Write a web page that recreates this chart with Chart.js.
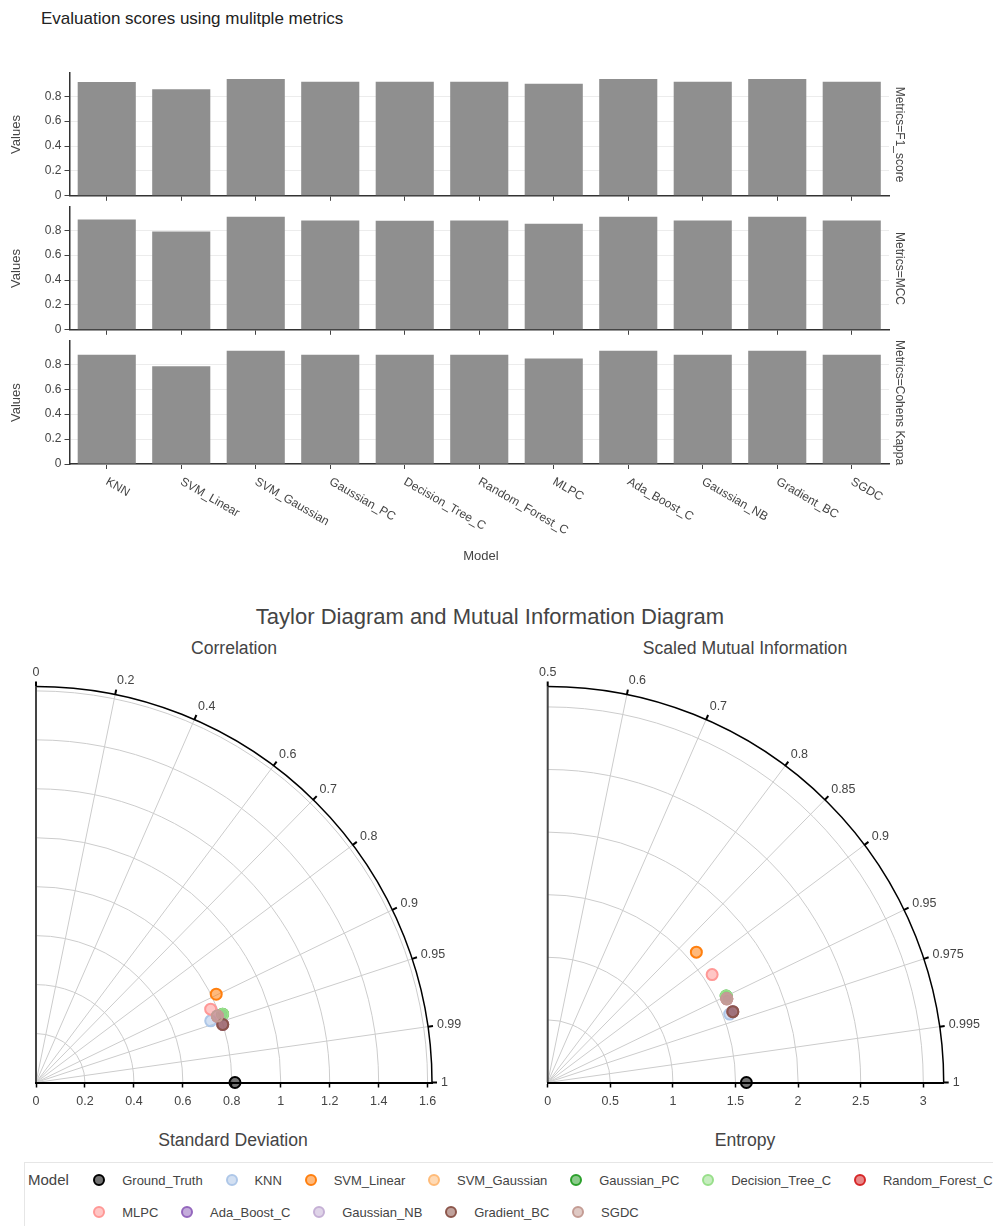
<!DOCTYPE html>
<html lang="en">
<head>
<meta charset="utf-8">
<script src="https://cdn.jsdelivr.net/npm/chart.js@4.4.0/dist/chart.umd.min.js"></script>
<style>
  body { margin: 0; width: 993px; height: 1226px; overflow: hidden; background: #fff;
         font-family: "Liberation Sans", Arial, sans-serif; color: #444; position: relative; }
  canvas { position: absolute; }
  .txt { position: absolute; text-align: center; white-space: nowrap; }
  #legend { position: absolute; left: 24px; top: 1162px; width: 1000px; height: 90px;
            border: 1px solid #e6e6e6; box-sizing: border-box; }
  .ltitle { position: absolute; left: 3px; top: 8px; font-size: 15px; line-height: 18px; }
  .lrow { position: absolute; left: 68.4px; display: flex; align-items: center; white-space: nowrap; height: 20px; }
  .item { display: flex; align-items: center; margin-right: 23px; font-size: 13px; }
  .mk { width: 12px; height: 12px; border-radius: 50%; border: 2px solid; box-sizing: border-box; margin-right: 16.8px; }
</style>
</head>
<body>

<div class="txt" style="left:41px; top:9px; font-size:17px; line-height:20px; color:#222; text-align:left">Evaluation scores using mulitple metrics</div>

<canvas id="f1" width="993" height="143" style="left:0; top:63px"></canvas>
<canvas id="mcc" width="993" height="143" style="left:0; top:197px"></canvas>
<canvas id="kappa" width="993" height="243" style="left:0; top:331px"></canvas>
<div class="txt" style="left:381px; width:200px; top:548px; font-size:13px; line-height:16px">Model</div>

<div class="txt" style="left:0; width:980px; top:604px; font-size:22px; line-height:26px">Taylor Diagram and Mutual Information Diagram</div>
<div class="txt" style="left:84px; width:300px; top:637px; font-size:17.6px; line-height:22px">Correlation</div>
<div class="txt" style="left:545px; width:400px; top:637px; font-size:17.6px; line-height:22px">Scaled Mutual Information</div>

<canvas id="taylor" width="490" height="452" style="left:0; top:660px"></canvas>
<canvas id="mutual" width="493" height="452" style="left:500px; top:660px"></canvas>

<div class="txt" style="left:83px; width:300px; top:1129px; font-size:17.6px; line-height:22px">Standard Deviation</div>
<div class="txt" style="left:595px; width:300px; top:1129px; font-size:17.6px; line-height:22px">Entropy</div>

<div id="legend">
  <span class="ltitle">Model</span>
  <div class="lrow" id="row1" style="top:7px"></div>
  <div class="lrow" id="row2" style="top:39px"></div>
</div>

<script>
// models (bar charts use all but Ground_Truth)
const models = ['Ground_Truth', 'KNN', 'SVM_Linear', 'SVM_Gaussian', 'Gaussian_PC', 'Decision_Tree_C',
                'Random_Forest_C', 'MLPC', 'Ada_Boost_C', 'Gaussian_NB', 'Gradient_BC', 'SGDC'];
const modelColors = ['#000000', '#aec7e8', '#ff7f0e', '#ffbb78', '#2ca02c', '#98df8a',
                     '#d62728', '#ff9896', '#9467bd', '#c5b0d5', '#8c564b', '#c49c94'];
const barModels = models.slice(1);

// bar chart scores
const f1Scores    = [0.914, 0.857, 0.938, 0.916, 0.916, 0.916, 0.900, 0.938, 0.916, 0.938, 0.916];
const mccScores   = [0.887, 0.789, 0.909, 0.879, 0.876, 0.879, 0.852, 0.909, 0.879, 0.909, 0.879];
const kappaScores = [0.876, 0.784, 0.909, 0.876, 0.876, 0.876, 0.846, 0.909, 0.876, 0.909, 0.876];

// taylor diagram
const stdDev      = [0.813, 0.757, 0.820, 0.799, 0.812, 0.812, 0.789, 0.774, 0.799, 0.789, 0.799, 0.789];
const correlation = [1.000, 0.943, 0.898, 0.955, 0.939, 0.939, 0.939, 0.922, 0.955, 0.939, 0.955, 0.939];
const corrTicks   = [0, 0.2, 0.4, 0.6, 0.7, 0.8, 0.9, 0.95, 0.99, 1];

// mutual information diagram
const entropy     = [1.587, 1.553, 1.579, 1.583, 1.584, 1.584, 1.579, 1.571, 1.583, 1.579, 1.583, 1.579];
const scaledMI    = [1.000, 0.968, 0.876, 0.967, 0.950, 0.950, 0.953, 0.918, 0.967, 0.953, 0.967, 0.953];
const smiTicks    = [0.5, 0.6, 0.7, 0.8, 0.85, 0.9, 0.95, 0.975, 0.995, 1];

const FONT = '"Liberation Sans", Arial, sans-serif';
Chart.defaults.font.family = FONT;
Chart.defaults.color = '#444';

function rgba(hex, a) {
  const n = parseInt(hex.slice(1), 16);
  return `rgba(${n >> 16},${(n >> 8) & 255},${n & 255},${a})`;
}

// ---------- facet bar charts ----------
function facetChart(id, values, metric, withLabels) {
  const sideLabel = {
    id: 'sideLabel',
    afterDraw(chart) {
      const {ctx, chartArea} = chart;
      ctx.save();
      ctx.font = '12px ' + FONT;
      ctx.fillStyle = '#444';
      ctx.textAlign = 'center';
      ctx.textBaseline = 'middle';
      ctx.translate(chartArea.right + 10, (chartArea.top + chartArea.bottom) / 2);
      ctx.rotate(Math.PI / 2);
      ctx.fillText('Metrics=' + metric, 0, 0);
      ctx.restore();
      if (!withLabels) return;
      const x = chart.scales.x;
      ctx.save();
      ctx.font = '12px ' + FONT;
      ctx.fillStyle = '#444';
      ctx.textAlign = 'left';
      ctx.textBaseline = 'middle';
      barModels.forEach((name, i) => {
        ctx.save();
        ctx.translate(x.getPixelForValue(i), chartArea.bottom + 17);
        ctx.rotate(Math.PI / 6);
        ctx.fillText(name, 0, 0);
        ctx.restore();
      });
      ctx.restore();
    }
  };

  return new Chart(document.getElementById(id), {
    type: 'bar',
    data: {
      labels: barModels,
      datasets: [{
        data: values,
        backgroundColor: '#8f8f8f',
        barPercentage: 0.78,
        categoryPercentage: 1
      }]
    },
    options: {
      responsive: false,
      animation: false,
      layout: {padding: {top: 10, right: 104, left: 0, bottom: 0}},
      plugins: {legend: {display: false}, tooltip: {enabled: false}},
      scales: {
        x: {
          grid: {display: true, drawOnChartArea: false, offset: false, tickLength: 5, tickColor: '#444'},
          border: {color: '#333', width: 1.5},
          ticks: {display: false},
          afterFit: s => { s.height = withLabels ? 110 : 10; }
        },
        y: {
          min: 0,
          max: 0.985,
          ticks: {stepSize: 0.2, includeBounds: false, padding: 3, font: {size: 12}, color: '#444'},
          grid: {color: '#ececec', tickColor: '#444', tickLength: 5},
          border: {color: '#333', width: 1.5},
          title: {display: true, text: 'Values', font: {size: 13}, color: '#444', padding: {top: 9, bottom: 0}},
          afterFit: s => { s.width = 69.5; }
        }
      }
    },
    plugins: [sideLabel]
  });
}

facetChart('f1', f1Scores, 'F1_score', false);
facetChart('mcc', mccScores, 'MCC', false);
facetChart('kappa', kappaScores, 'Cohens Kappa', true);

// ---------- polar quarter diagrams ----------
function quarterGrid(angleTicks, toAngle) {
  return {
    id: 'quarterGrid',
    beforeDraw(chart) {
      const {ctx, scales: {x, y}} = chart;
      const cx = x.getPixelForValue(0), cy = y.getPixelForValue(0);
      const R = x.getPixelForValue(x.max) - cx;
      ctx.save();
      ctx.strokeStyle = '#cccccc';
      ctx.lineWidth = 1;
      x.ticks.forEach(t => {
        if (t.value <= 0) return;
        const r = x.getPixelForValue(t.value) - cx;
        ctx.beginPath();
        ctx.arc(cx, cy, r, -Math.PI / 2, 0);
        ctx.stroke();
      });
      angleTicks.forEach(v => {
        const a = toAngle(v);
        if (a < 1e-6 || a > Math.PI / 2 - 1e-6) return;
        ctx.beginPath();
        ctx.moveTo(cx, cy);
        ctx.lineTo(cx + R * Math.cos(a), cy - R * Math.sin(a));
        ctx.stroke();
      });
      // outer arc
      ctx.strokeStyle = '#000';
      ctx.lineWidth = 1.5;
      ctx.beginPath();
      ctx.arc(cx, cy, R, -Math.PI / 2, 0);
      ctx.stroke();
      // vertical axis
      ctx.strokeStyle = '#444';
      ctx.lineWidth = 2;
      ctx.beginPath();
      ctx.moveTo(cx, cy);
      ctx.lineTo(cx, cy - R);
      ctx.stroke();
      // angular ticks + labels
      ctx.strokeStyle = '#000';
      ctx.lineWidth = 2;
      ctx.font = '12.5px ' + FONT;
      ctx.fillStyle = '#444';
      ctx.textBaseline = 'middle';
      angleTicks.forEach(v => {
        const a = toAngle(v), c = Math.cos(a), s = Math.sin(a);
        ctx.beginPath();
        ctx.moveTo(cx + R * c, cy - R * s);
        ctx.lineTo(cx + (R + 5) * c, cy - (R + 5) * s);
        ctx.stroke();
        const d = R + 9;
        ctx.textAlign = c < 0.01 ? 'center' : 'left';
        ctx.fillText(String(v), cx + d * c, cy - d * s - 5 * s);
      });
      ctx.restore();
    }
  };
}

function quarterChart(id, radii, angles, toAngle, angleTicks, rMax, step, padL, padR) {
  const datasets = models.map((m, i) => {
    const a = toAngle(angles[i]);
    return {
      label: m,
      data: [{x: radii[i] * Math.cos(a), y: radii[i] * Math.sin(a)}],
      backgroundColor: rgba(modelColors[i], 0.55),
      borderColor: modelColors[i],
      borderWidth: 2,
      pointRadius: 5.5,
      clip: false,
      order: models.length - 1 - i
    };
  });
  return new Chart(document.getElementById(id), {
    type: 'scatter',
    data: {datasets},
    options: {
      responsive: false,
      animation: false,
      layout: {padding: {top: 26.5, left: padL, right: padR, bottom: 0}},
      plugins: {legend: {display: false}, tooltip: {enabled: false}},
      scales: {
        x: {
          type: 'linear',
          min: 0,
          max: rMax,
          ticks: {stepSize: step, includeBounds: false, padding: 7, font: {size: 12.5}, color: '#444',
                  callback: v => String(+v.toFixed(2))},
          grid: {drawOnChartArea: false, tickLength: 5, tickColor: '#000', tickWidth: 1.5},
          border: {color: '#000', width: 2},
          afterFit: s => { s.height = 29.5; }
        },
        y: {type: 'linear', display: false, min: 0, max: rMax}
      }
    },
    plugins: [quarterGrid(angleTicks, toAngle)]
  });
}

const corrAngle = c => Math.acos(Math.min(1, c));
const smiAngle = m => Math.acos(Math.min(1, 2 * m - 1));

quarterChart('taylor', stdDev, correlation, corrAngle, corrTicks, 1.618, 0.2, 36, 58);
quarterChart('mutual', entropy, scaledMI, smiAngle, smiTicks, 3.163, 0.5, 47.7, 49.3);

// ---------- legend ----------
models.forEach((m, i) => {
  const item = document.createElement('div');
  item.className = 'item';
  const mk = document.createElement('span');
  mk.className = 'mk';
  mk.style.borderColor = modelColors[i];
  mk.style.background = rgba(modelColors[i], 0.55);
  item.appendChild(mk);
  item.appendChild(document.createTextNode(m));
  document.getElementById(i < 7 ? 'row1' : 'row2').appendChild(item);
});
</script>
</body>
</html>
